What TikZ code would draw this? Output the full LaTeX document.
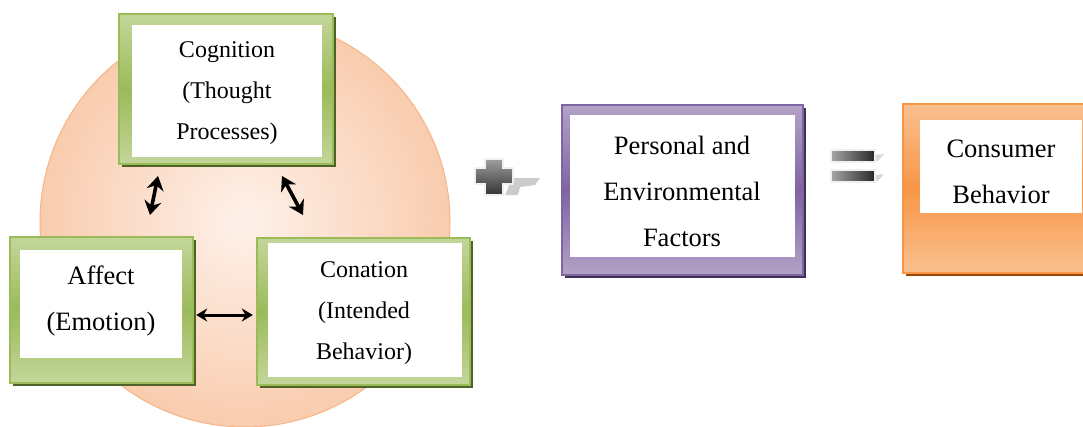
\documentclass[tikz,border=0pt]{standalone}
\usepackage{fontspec}
\setmainfont{Liberation Serif}
\usetikzlibrary{arrows.meta,calc,fit}
\definecolor{gLight}{HTML}{C3D69B}
\definecolor{gDark}{HTML}{9BBB59}
\definecolor{gShadow}{HTML}{4F6228}
\definecolor{pLight}{HTML}{B3A2C7}
\definecolor{pDark}{HTML}{8064A2}
\definecolor{pShadow}{HTML}{3F3151}
\definecolor{oLight}{HTML}{FAC090}
\definecolor{oDark}{HTML}{F79646}
\definecolor{oShadow}{HTML}{984807}
\definecolor{cInner}{HTML}{FEF1EA}
\definecolor{cOuter}{HTML}{F9CCAE}
\definecolor{cBorder}{HTML}{F6B58A}
\newcommand{\fancybox}[8]{%
  \fill[#7] ($#1+(3,3)$) rectangle ($#2+(3,3)$);
  \shade[top color=#5, bottom color=#5, middle color=#6] #1 rectangle #2;
  \draw[#6, line width=1.2] #1 rectangle #2;
  \fill[white] #3 rectangle #4;
  \node[fit={#1 #2}, inner sep=0] (#8) {};
}
\tikzset{
  smalltxt/.style={align=center, font=\fontsize{24}{41}\selectfont},
  bigtxt/.style={align=center, font=\fontsize{26.5}{46}\selectfont},
  dblarrow/.style={line width=3.6pt, draw=black, arrows={Stealth[length=14pt,width=17pt]-Stealth[length=14pt,width=17pt]}},
  harrow/.style={line width=3pt, draw=black, arrows={Stealth[length=11pt,width=13pt]-Stealth[length=11pt,width=13pt]}}
}
\begin{document}
\begin{tikzpicture}[x=1pt,y=-1pt]
\useasboundingbox (0,0) rectangle (1083,426);
\clip (0,0) rectangle (1083,426);
% circle
\shade[inner color=cInner, outer color=cOuter] (245,222) circle (205);
\draw[cBorder, line width=1] (245,222) circle (205);
% boxes
\fancybox{(119,14)}{(333,164)}{(132,25)}{(322,157)}{gLight}{gDark}{gShadow}{cog}
\fancybox{(10,237)}{(193,383)}{(20,250)}{(182,358)}{gLight}{gDark}{gShadow}{aff}
\fancybox{(257,238)}{(470,385)}{(268,243)}{(462,377)}{gLight}{gDark}{gShadow}{con}
\fancybox{(562,105)}{(803,275)}{(570,115)}{(795,257)}{pLight}{pDark}{pShadow}{pef}
\fancybox{(903,104)}{(1100,273)}{(920,120)}{(1082,213)}{oLight}{oDark}{oShadow}{cb}
% texts
\node[smalltxt] (cogt) at (227,93) {Cognition\\(Thought\\Processes)};
\node[bigtxt] (afft) at (101,301) {Affect\\(Emotion)};
\node[smalltxt] (cont) at (364,313) {Conation\\(Intended\\Behavior)};
\node[bigtxt] (peft) at (682,191) {Personal and\\Environmental\\Factors};
\node[bigtxt] (cbt) at (1001,172) {Consumer\\Behavior};
% arrows
\coordinate (a1s) at (158,176); \coordinate (a1e) at (150,215);
\coordinate (a2s) at (282,176); \coordinate (a2e) at (303,215);
\draw[dblarrow] (a1s) -- (a1e);
\draw[dblarrow] (a2s) -- (a2e);
\coordinate (h1) at ($(aff.east |- 0,315)+(3,0)$);
\coordinate (h2) at ($(con.west |- 0,315)+(-4,0)$);
\draw[harrow] (h1) -- (h2);
% plus sign
\fill[gray!40] (512,178) -- (540,178) -- (535,185) -- (520,187) -- (518,195) -- (505,195) -- cycle;
\draw[gray!12, line width=2.5, line join=miter, top color=gray!75, bottom color=black!80]
  (485,159) -- (503,159) -- (503,168) -- (513,168) -- (513,184) -- (503,184) -- (503,195) -- (485,195) -- (485,184) -- (475,184) -- (475,168) -- (485,168) -- cycle;
% equals sign
\fill[gray!30] (875,155) -- (884,154) -- (877,162) -- cycle;
\fill[gray!30] (875,175) -- (884,174) -- (877,182) -- cycle;
\draw[gray!12, line width=2.5, left color=gray!70, right color=black!85] (831,150) rectangle (875,162);
\draw[gray!12, line width=2.5, left color=gray!70, right color=black!85] (831,170) rectangle (875,182);
\end{tikzpicture}
\end{document}
